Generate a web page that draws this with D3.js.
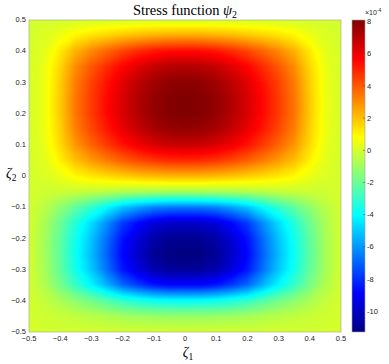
<!DOCTYPE html>
<html>
<head>
<meta charset="utf-8">
<script src="https://cdn.jsdelivr.net/npm/d3@7"></script>
<style>
body { margin: 0; background: #fff; }
text { font-family: "Liberation Sans", Arial, sans-serif; fill: #262626; }
.serif { font-family: "Liberation Serif", "Times New Roman", serif; }
</style>
</head>
<body>
<div id="chart"></div>
<script>
var width = 389;
var height = 364;

// grid positions (zeta1 left->right, zeta2 top->bottom)
var zeta1 = [-0.5, -0.45, -0.4, -0.35, -0.3, -0.25, -0.2, -0.15, -0.1, -0.05, 0,
	0.05, 0.1, 0.15, 0.2, 0.25, 0.3, 0.35, 0.4, 0.45, 0.5];
var zeta2 = [0.5, 0.45, 0.4, 0.35, 0.3, 0.25, 0.2, 0.15, 0.1, 0.05, 0,
	-0.05, -0.1, -0.15, -0.2, -0.25, -0.3, -0.35, -0.4, -0.45, -0.5];

// psi_2 in units of 1e-4, one row per zeta2 value
var psi = [
	[0, 0, 0, 0, 0, 0, 0, 0, 0, 0, 0, 0, 0, 0, 0, 0, 0, 0, 0, 0, 0],
	[0, 0.15, 0.53, 1.02, 1.36, 1.65, 1.92, 2.14, 2.31, 2.41, 2.43, 2.41, 2.31, 2.14, 1.92, 1.65, 1.36, 1.02, 0.53, 0.15, 0],
	[0, 0.33, 1.21, 2.31, 3.09, 3.75, 4.35, 4.85, 5.24, 5.45, 5.51, 5.45, 5.24, 4.85, 4.35, 3.75, 3.09, 2.31, 1.21, 0.33, 0],
	[0, 0.43, 1.57, 2.99, 4.00, 4.85, 5.63, 6.27, 6.78, 7.06, 7.13, 7.06, 6.78, 6.27, 5.63, 4.85, 4.00, 2.99, 1.57, 0.43, 0],
	[0, 0.48, 1.73, 3.30, 4.40, 5.34, 6.21, 6.92, 7.47, 7.78, 7.86, 7.78, 7.47, 6.92, 6.21, 5.34, 4.40, 3.30, 1.73, 0.48, 0],
	[0, 0.49, 1.78, 3.40, 4.54, 5.51, 6.40, 7.13, 7.70, 8.02, 8.10, 8.02, 7.70, 7.13, 6.40, 5.51, 4.54, 3.40, 1.78, 0.49, 0],
	[0, 0.49, 1.78, 3.40, 4.54, 5.51, 6.40, 7.13, 7.70, 8.02, 8.10, 8.02, 7.70, 7.13, 6.40, 5.51, 4.54, 3.40, 1.78, 0.49, 0],
	[0, 0.47, 1.69, 3.23, 4.31, 5.23, 6.08, 6.77, 7.32, 7.62, 7.70, 7.62, 7.32, 6.77, 6.08, 5.23, 4.31, 3.23, 1.69, 0.47, 0],
	[0, 0.41, 1.48, 2.82, 3.77, 4.57, 5.31, 5.92, 6.39, 6.66, 6.72, 6.66, 6.39, 5.92, 5.31, 4.57, 3.77, 2.82, 1.48, 0.41, 0],
	[0, 0.29, 1.07, 2.04, 2.72, 3.31, 3.84, 4.28, 4.62, 4.81, 4.86, 4.81, 4.62, 4.28, 3.84, 3.31, 2.72, 2.04, 1.07, 0.29, 0],
	[0, 0.13, 0.48, 0.94, 1.25, 1.51, 1.74, 1.94, 2.09, 2.19, 2.20, 2.19, 2.09, 1.94, 1.74, 1.51, 1.25, 0.94, 0.48, 0.13, 0],
	[0, -0.09, -0.16, -0.24, -0.35, -0.50, -0.68, -0.78, -0.86, -0.89, -0.89, -0.89, -0.86, -0.78, -0.68, -0.50, -0.35, -0.24, -0.16, -0.09, 0],
	[0, -0.53, -1.32, -2.23, -3.10, -4.10, -5.16, -5.82, -6.36, -6.58, -6.62, -6.58, -6.36, -5.82, -5.16, -4.10, -3.10, -2.23, -1.32, -0.53, 0],
	[0, -0.79, -1.99, -3.38, -4.67, -6.17, -7.75, -8.75, -9.55, -9.89, -9.94, -9.89, -9.55, -8.75, -7.75, -6.17, -4.67, -3.38, -1.99, -0.79, 0],
	[0, -0.87, -2.19, -3.72, -5.15, -6.80, -8.55, -9.64, -10.52, -10.90, -10.96, -10.90, -10.52, -9.64, -8.55, -6.80, -5.15, -3.72, -2.19, -0.87, 0],
	[0, -0.90, -2.26, -3.84, -5.31, -7.01, -8.81, -9.94, -10.85, -11.24, -11.30, -11.24, -10.85, -9.94, -8.81, -7.01, -5.31, -3.84, -2.26, -0.90, 0],
	[0, -0.86, -2.17, -3.69, -5.10, -6.73, -8.46, -9.54, -10.42, -10.79, -10.85, -10.79, -10.42, -9.54, -8.46, -6.73, -5.10, -3.69, -2.17, -0.86, 0],
	[0, -0.70, -1.76, -3.00, -4.14, -5.47, -6.87, -7.75, -8.46, -8.77, -8.81, -8.77, -8.46, -7.75, -6.87, -5.47, -4.14, -3.00, -1.76, -0.70, 0],
	[0, -0.32, -0.79, -1.34, -1.86, -2.45, -3.08, -3.48, -3.80, -3.93, -3.96, -3.93, -3.80, -3.48, -3.08, -2.45, -1.86, -1.34, -0.79, -0.32, 0],
	[0, -0.09, -0.23, -0.38, -0.53, -0.70, -0.88, -0.99, -1.09, -1.12, -1.13, -1.12, -1.09, -0.99, -0.88, -0.70, -0.53, -0.38, -0.23, -0.09, 0],
	[0, 0, 0, 0, 0, 0, 0, 0, 0, 0, 0, 0, 0, 0, 0, 0, 0, 0, 0, 0, 0]
];

var axisTicks = [-0.5, -0.4, -0.3, -0.2, -0.1, 0, 0.1, 0.2, 0.3, 0.4, 0.5];
var cbTicks = [-10, -8, -6, -4, -2, 0, 2, 4, 6, 8];
var cLimits = [-11.3, 8.1];

var x = d3.scaleLinear().domain([-0.5, 0.5]).range([29, 341]);
var y = d3.scaleLinear().domain([-0.5, 0.5]).range([332, 20]);

// MATLAB jet
var jet = d3.scaleLinear()
	.domain([0, 0.125, 0.375, 0.625, 0.875, 1])
	.range(["#000080", "#0000ff", "#00ffff", "#ffff00", "#ff0000", "#800000"])
	.clamp(true);
var norm = d3.scaleLinear().domain(cLimits).range([0, 1]);
var color = function(v) { return jet(norm(v)); };

var svg = d3.select("#chart")
	.append("svg")
	.attr("width", width)
	.attr("height", height);

svg.append("defs").append("clipPath")
	.attr("id", "plotclip")
	.append("rect")
	.attr("x", x(-0.5)).attr("y", y(0.5))
	.attr("width", x(0.5) - x(-0.5))
	.attr("height", y(-0.5) - y(0.5));

// grid index -> pixel
var gx = d3.scaleLinear().domain([0.5, zeta1.length - 0.5]).range([x(zeta1[0]), x(zeta1[zeta1.length - 1])]);
var gy = d3.scaleLinear().domain([0.5, zeta2.length - 0.5]).range([y(zeta2[0]), y(zeta2[zeta2.length - 1])]);
var path = d3.geoPath(d3.geoTransform({
	point: function(px, py) { this.stream.point(gx(px), gy(py)); }
}));

var values = psi.flat();
var thresholds = d3.range(cLimits[0], cLimits[1], 0.08);
thresholds[0] = -20;

var contours = d3.contours()
	.size([zeta1.length, zeta2.length])
	.thresholds(thresholds)(values);

svg.append("g")
	.attr("clip-path", "url(#plotclip)")
	.selectAll("path")
	.data(contours)
	.enter()
	.append("path")
	.attr("d", path)
	.attr("fill", function(d, i) {
		return color(i === 0 ? cLimits[0] : d.value + 0.04);
	})
	.attr("stroke", function(d, i) {
		return color(i === 0 ? cLimits[0] : d.value + 0.04);
	})
	.attr("stroke-width", 0.3);

svg.append("rect")
	.attr("x", x(-0.5)).attr("y", y(0.5))
	.attr("width", x(0.5) - x(-0.5))
	.attr("height", y(-0.5) - y(0.5))
	.attr("fill", "none")
	.attr("stroke", "#a0a0a0")
	.attr("stroke-width", 0.6);

// tick labels
svg.selectAll(".xl")
	.data(axisTicks)
	.enter()
	.append("text")
	.attr("x", function(d) { return x(d); })
	.attr("y", 340.5)
	.attr("text-anchor", "middle")
	.attr("font-size", 7.5)
	.text(function(d) { return d3.format("")(d); });

svg.selectAll(".yl")
	.data(axisTicks)
	.enter()
	.append("text")
	.attr("x", 26)
	.attr("y", function(d) { return y(d) + 2.2; })
	.attr("text-anchor", "end")
	.attr("font-size", 7.5)
	.text(function(d) { return d3.format("")(d); });

// axis labels and title
var t = svg.append("text")
	.attr("class", "serif")
	.attr("x", 185)
	.attr("y", 15)
	.attr("text-anchor", "middle")
	.attr("font-size", 14.5)
	.style("fill", "#000");
t.append("tspan").text("Stress function ");
t.append("tspan").attr("font-style", "italic").text("ψ");
t.append("tspan").attr("font-size", 10).attr("dy", 2.5).text("2");

var xl = svg.append("text")
	.attr("class", "serif")
	.attr("x", 188)
	.attr("y", 357)
	.attr("text-anchor", "middle")
	.attr("font-size", 14)
	.style("fill", "#000");
xl.append("tspan").attr("font-style", "italic").text("ζ");
xl.append("tspan").attr("font-size", 9.5).attr("dy", 2.5).text("1");

var yl = svg.append("text")
	.attr("class", "serif")
	.attr("x", 6)
	.attr("y", 178)
	.attr("font-size", 14)
	.style("fill", "#000");
yl.append("tspan").attr("font-style", "italic").text("ζ");
yl.append("tspan").attr("font-size", 9.5).attr("dy", 2.5).text("2");

// colorbar
var cb = d3.scaleLinear().domain(cLimits).range([332, 20]);
var cbX = 352, cbW = 13;
var grad = svg.select("defs").append("linearGradient")
	.attr("id", "jetgrad")
	.attr("x1", 0).attr("y1", 1).attr("x2", 0).attr("y2", 0);
grad.selectAll("stop")
	.data(jet.domain())
	.enter()
	.append("stop")
	.attr("offset", function(d) { return d; })
	.attr("stop-color", function(d) { return jet(d); });

svg.append("rect")
	.attr("x", cbX).attr("y", cb(cLimits[1]))
	.attr("width", cbW)
	.attr("height", cb(cLimits[0]) - cb(cLimits[1]))
	.attr("fill", "url(#jetgrad)")
	.attr("stroke", "#a0a0a0")
	.attr("stroke-width", 0.6);

svg.selectAll(".cbt")
	.data(cbTicks)
	.enter()
	.append("line")
	.attr("x1", cbX + cbW - 2).attr("x2", cbX + cbW)
	.attr("y1", function(d) { return cb(d); })
	.attr("y2", function(d) { return cb(d); })
	.attr("stroke", "#404040")
	.attr("stroke-width", 0.5);

svg.selectAll(".cbl")
	.data(cbTicks)
	.enter()
	.append("text")
	.attr("x", 367)
	.attr("y", function(d) { return cb(d) + 2.7; })
	.attr("font-size", 7.5)
	.text(function(d) { return d; });

var ex = svg.append("text")
	.attr("x", 365)
	.attr("y", 15)
	.attr("font-size", 7);
ex.append("tspan").text("×10");
ex.append("tspan").attr("font-size", 5).attr("dy", -3).text("-4");
</script>
</body>
</html>
